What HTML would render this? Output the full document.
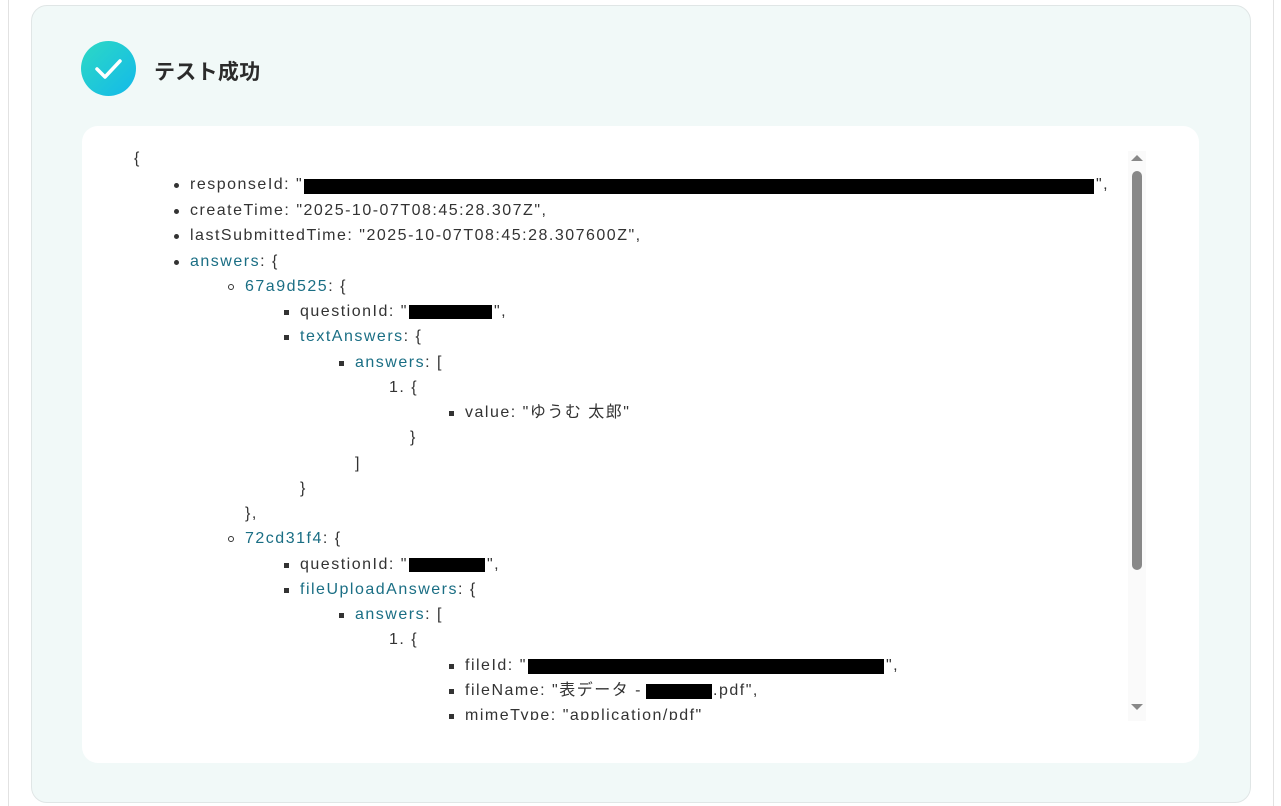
<!DOCTYPE html>
<html><head><meta charset="utf-8"><style>
body{margin:0;width:1281px;height:806px;background:#fff;position:relative;overflow:hidden;font-family:"Liberation Sans","Noto Sans CJK JP",sans-serif;}
.vl{position:absolute;top:0;bottom:0;width:1px;background:#e2e2e2}
.card{position:absolute;left:31px;top:5px;width:1218px;height:796px;background:#f1f9f8;border:1px solid #e0e6e6;border-radius:16px}
.ic{position:absolute;left:81px;top:41px;width:55px;height:55px;border-radius:50%;background:linear-gradient(135deg,#2dd9c4,#13b9ea)}
.title{position:absolute;left:154px;top:56px;font-size:21px;font-weight:bold;color:#2b2b2b;letter-spacing:0.3px}
.box{position:absolute;left:82px;top:126px;width:1117px;height:637px;background:#fff;border-radius:16px;overflow:hidden}
.l{position:absolute;font-size:16px;letter-spacing:1.5px;color:#333;white-space:nowrap;line-height:18px}
.k{color:#1a6e84}
.r{position:absolute;background:#000}
.d{position:absolute;width:5px;height:5px;background:#333;border-radius:50%}
.c{position:absolute;width:6px;height:6px;border:1px solid #333;border-radius:50%;box-sizing:border-box}
.s{position:absolute;width:5px;height:5px;background:#333}
</style></head><body>
<div class="vl" style="left:8px"></div>
<div class="vl" style="left:1273px"></div>
<div class="card"></div>
<div class="ic"><svg width="55" height="55"><path d="M16 28 L24 36 L39 20" stroke="#fff" stroke-width="3.5" fill="none" stroke-linecap="round" stroke-linejoin="round"/></svg></div>
<div class="title">テスト成功</div>
<div class="box">
<div style="position:absolute;left:1046px;top:25px;width:18px;height:570px;background:#fafafa"></div>
<div style="position:absolute;left:1049px;top:29px;width:0;height:0;border-left:6px solid transparent;border-right:6px solid transparent;border-bottom:6px solid #888"></div>
<div style="position:absolute;left:1050px;top:45px;width:10px;height:399px;background:#888;border-radius:5px"></div>
<div style="position:absolute;left:1049px;top:578px;width:0;height:0;border-left:6px solid transparent;border-right:6px solid transparent;border-top:6px solid #888"></div>
</div>
<div class="l" style="left:134px;top:150px">{</div>
<div class="d" style="left:174px;top:183px"></div><div class="l" style="left:190px;top:176px">responseId: "</div><div class="r" style="left:304px;top:179px;width:790px;height:15px"></div><div class="l" style="left:1096px;top:176px">",</div>
<div class="d" style="left:174px;top:209px"></div><div class="l" style="left:190px;top:202px">createTime: "2025-10-07T08:45:28.307Z",</div>
<div class="d" style="left:174px;top:234px"></div><div class="l" style="left:190px;top:227px">lastSubmittedTime: "2025-10-07T08:45:28.307600Z",</div>
<div class="d" style="left:174px;top:260px"></div><div class="l" style="left:190px;top:253px"><span class="k">answers</span>: {</div>
<div class="c" style="left:228px;top:284px"></div><div class="l" style="left:245px;top:278px"><span class="k">67a9d525</span>: {</div>
<div class="s" style="left:284px;top:310px"></div><div class="l" style="left:300px;top:303px">questionId: "</div><div class="r" style="left:409px;top:305px;width:83px;height:14px"></div><div class="l" style="left:494px;top:303px">",</div>
<div class="s" style="left:284px;top:335px"></div><div class="l" style="left:300px;top:328px"><span class="k">textAnswers</span>: {</div>
<div class="s" style="left:339px;top:361px"></div><div class="l" style="left:355px;top:354px"><span class="k">answers</span>: [</div>
<div class="l" style="left:389px;top:379px">1. {</div>
<div class="s" style="left:449px;top:411px"></div><div class="l" style="left:465px;top:404px">value: "ゆうむ 太郎"</div>
<div class="l" style="left:410px;top:429px">}</div>
<div class="l" style="left:355px;top:455px">]</div>
<div class="l" style="left:300px;top:480px">}</div>
<div class="l" style="left:245px;top:505px">},</div>
<div class="c" style="left:228px;top:536px"></div><div class="l" style="left:245px;top:530px"><span class="k">72cd31f4</span>: {</div>
<div class="s" style="left:284px;top:563px"></div><div class="l" style="left:300px;top:556px">questionId: "</div><div class="r" style="left:409px;top:558px;width:76px;height:14px"></div><div class="l" style="left:487px;top:556px">",</div>
<div class="s" style="left:284px;top:588px"></div><div class="l" style="left:300px;top:581px"><span class="k">fileUploadAnswers</span>: {</div>
<div class="s" style="left:339px;top:613px"></div><div class="l" style="left:355px;top:606px"><span class="k">answers</span>: [</div>
<div class="l" style="left:389px;top:631px">1. {</div>
<div class="s" style="left:449px;top:664px"></div><div class="l" style="left:465px;top:657px">fileId: "</div><div class="r" style="left:528px;top:659px;width:356px;height:15px"></div><div class="l" style="left:886px;top:657px">",</div>
<div class="s" style="left:449px;top:689px"></div><div class="l" style="left:465px;top:682px">fileName: "表データ -</div><div class="r" style="left:646px;top:684px;width:66px;height:15px"></div><div class="l" style="left:713px;top:682px">.pdf",</div>
<div style="position:absolute;left:440px;top:708px;width:400px;height:12px;overflow:hidden">
<div class="s" style="left:9px;top:6px"></div><div class="l" style="left:25px;top:-1px">mimeType: "application/pdf"</div></div>
</body></html>
